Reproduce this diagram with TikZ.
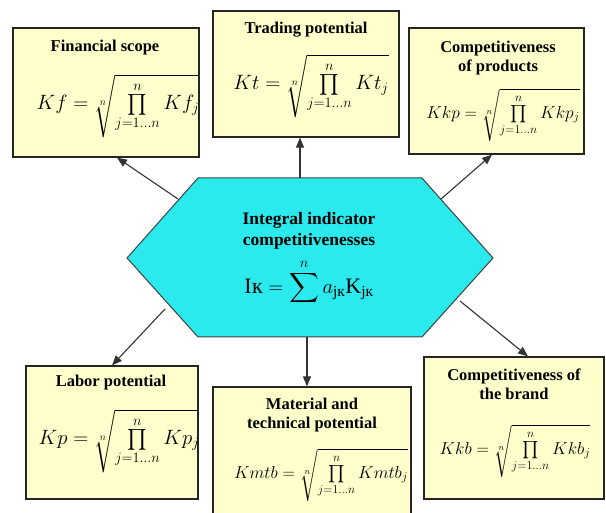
\documentclass[tikz,border=0pt]{standalone}
\usepackage{amsmath}
\usepackage{fontspec}
\setmainfont{Liberation Serif}
\usetikzlibrary{arrows.meta, positioning}

\definecolor{boxfill}{RGB}{255,255,204}
\definecolor{hexfill}{RGB}{42,234,238}

\tikzset{
  factor/.style={draw=black!85, line width=1.2pt, fill=boxfill, inner sep=0pt},
  ttl/.style={font=\bfseries\fontsize{16.5}{19}\selectfont, align=center, inner sep=0pt},
  frm/.style={font=\fontsize{20}{22}\selectfont, inner sep=0pt},
  link/.style={-{Triangle[length=10pt,width=8pt]}, line width=1.1pt, draw=black!80},
}

\newcommand{\rprod}[2]{$#1 = \sqrt[n]{\prod\limits_{j=1\ldots n}^{n} #2}$}

\begin{document}
\begin{tikzpicture}[x=1pt, y=-1pt]
    \useasboundingbox (0,0) rectangle (606,513);

    % Blocos dos fatores
    \node[factor, minimum width=186pt, minimum height=129pt] (fin) at (106,92.5) {};
    \node[factor, minimum width=186pt, minimum height=126pt] (trade) at (306,74) {};
    \node[factor, minimum width=175pt, minimum height=126pt] (prod) at (496.5,91) {};
    \node[factor, minimum width=172pt, minimum height=133pt] (labor) at (112,432.5) {};
    \node[factor, minimum width=198pt, minimum height=129pt] (mat) at (312,451.5) {};
    \node[factor, minimum width=180pt, minimum height=142pt] (brand) at (514,428) {};

    % Titulos
    \node[ttl] (finT) at (105,48) {Financial scope};
    \node[ttl] (tradeT) at (306,30) {Trading potential};
    \node[ttl] (prodT) at (498,58.5) {Competitiveness\\of products};
    \node[ttl] (laborT) at (111,383) {Labor potential};
    \node[ttl] (matT) at (312,415) {Material and\\technical potential};
    \node[ttl] (brandT) at (514,384) {Competitiveness of\\the brand};

    % Formulas
    \node[frm] (finF) at (118,106) {\rprod{Kf}{Kf_j}};
    \node[frm] (tradeF) at (311,86) {\rprod{Kt}{Kt_j}};
    \node[frm, font=\fontsize{17.5}{20}\selectfont] (prodF) at (503,115) {\rprod{Kkp}{Kkp_j}};
    \node[frm] (laborF) at (119,441) {\rprod{Kp}{Kp_j}};
    \node[frm, font=\fontsize{18}{20}\selectfont] (matF) at (321,475) {\rprod{Kmtb}{Kmtb_j}};
    \node[frm, font=\fontsize{18.5}{21}\selectfont] (brandF) at (515,451) {\rprod{Kkb}{Kkb_j}};

    % Hexagono central
    \coordinate (hexL) at (127,258);
    \coordinate (hexTL) at (198,178);
    \coordinate (hexTR) at (422,178);
    \coordinate (hexR) at (493,258);
    \coordinate (hexBR) at (422,337);
    \coordinate (hexBL) at (198,337);
    \draw[line width=1pt, draw=black!75, fill=hexfill]
        (hexL) -- (hexTL) -- (hexTR) -- (hexR) -- (hexBR) -- (hexBL) -- cycle;

    \node[ttl, font=\bfseries\fontsize{17.5}{21}\selectfont] (hexT) at (309,231)
        {Integral indicator\\competitivenesses};
    \node[frm, font=\fontsize{22}{24}\selectfont] (hexF) at (309,282)
        {\text{I\kern0.5pt к} $= \displaystyle\sum\limits^{n} a_{\text{jк}}\text{K}_{\text{jк}}$};

    % Pontos de saida das setas
    \coordinate (oFin) at (178,199);
    \coordinate (oTrade) at (300,178);
    \coordinate (oProd) at (441,199);
    \coordinate (oLabor) at (165,309);
    \coordinate (oMat) at (307,337);
    \coordinate (oBrand) at (460,301);

    % Setas
    \draw[link] (oFin) -- ([xshift=11pt]fin.south);
    \draw[link] (oTrade) -- ([xshift=-6pt]trade.south);
    \draw[link] (oProd) -- ([xshift=-4.5pt]prod.south);
    \draw[link] (oLabor) -- (labor.north);
    \draw[link] (oMat) -- ([xshift=-5pt]mat.north);
    \draw[link] (oBrand) -- ([xshift=14pt]brand.north);

\end{tikzpicture}
\end{document}
